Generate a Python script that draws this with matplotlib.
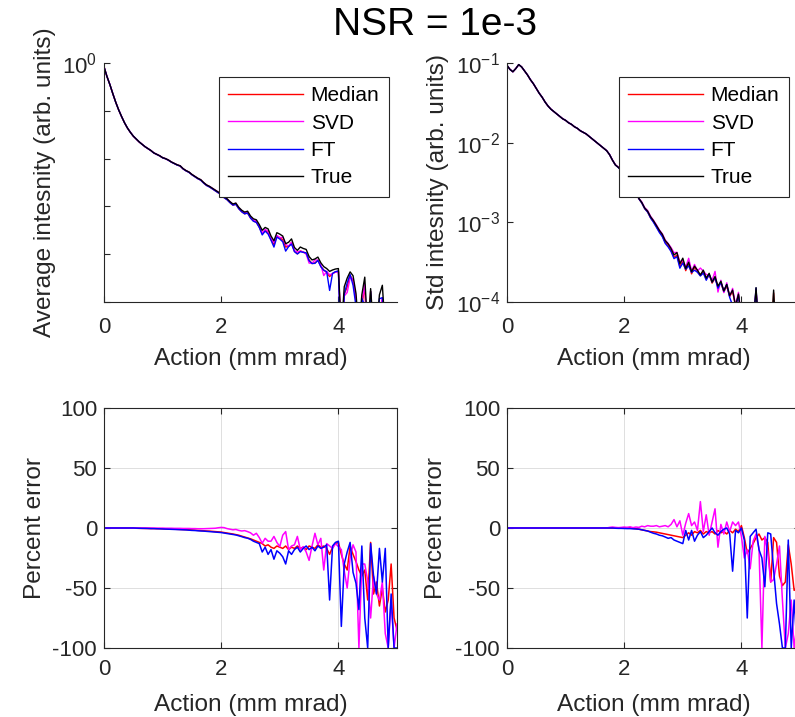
import numpy as np
import matplotlib
matplotlib.use("Agg")
import matplotlib.pyplot as plt

plt.rcParams['font.family'] = ['Liberation Sans', 'DejaVu Sans']
plt.rcParams['mathtext.fontset'] = 'custom'
plt.rcParams['mathtext.rm'] = 'Liberation Sans'
plt.rcParams['mathtext.it'] = 'Liberation Sans:italic'
plt.rcParams['axes.unicode_minus'] = False

action = np.linspace(0, 5, 101)

# log10 of the true average / std intensity
avg_true_log = [
    -0.08, -0.28, -0.45, -0.64, -0.82, -0.98, -1.12, -1.25, -1.36, -1.45,
    -1.53, -1.59, -1.65, -1.70, -1.75, -1.79, -1.83, -1.88, -1.91, -1.94,
    -1.98, -2.00, -2.03, -2.07, -2.10, -2.13, -2.15, -2.21, -2.25, -2.28,
    -2.33, -2.37, -2.41, -2.44, -2.50, -2.55, -2.58, -2.62, -2.66, -2.70,
    -2.73, -2.80, -2.84, -2.90, -2.95, -2.93, -3.02, -3.08, -3.12, -3.10,
    -3.20, -3.26, -3.28, -3.38, -3.50, -3.44, -3.47, -3.62, -3.72, -3.55,
    -3.58, -3.62, -3.78, -3.75, -3.68, -3.86, -3.92, -3.85, -3.88, -3.90,
    -4.05, -4.12, -4.10, -4.06, -4.18, -4.26, -4.30, -4.36, -4.33, -4.31,
    -4.30, -5.60, -4.68, -4.50, -4.37, -4.45, -4.82, -5.60, -4.85, -4.48,
    -5.60, -4.72, -5.60, -5.60, -4.85, -4.65, -5.60, -5.60, -5.60, -5.60,
    -5.60]
std_true_log = [
    -1.03, -1.08, -1.11, -1.07, -1.02, -1.05, -1.10, -1.15, -1.21, -1.26,
    -1.32, -1.38, -1.43, -1.49, -1.54, -1.58, -1.61, -1.64, -1.67, -1.70,
    -1.72, -1.75, -1.77, -1.80, -1.82, -1.85, -1.87, -1.89, -1.92, -1.95,
    -1.98, -2.01, -2.04, -2.07, -2.10, -2.15, -2.22, -2.28, -2.31, -2.35,
    -2.40, -2.45, -2.50, -2.56, -2.62, -2.70, -2.75, -2.82, -2.86, -2.93,
    -2.98, -3.04, -3.10, -3.15, -3.23, -3.27, -3.33, -3.41, -3.38, -3.52,
    -3.45, -3.58, -3.50, -3.62, -3.55, -3.60, -3.66, -3.60, -3.70, -3.64,
    -3.75, -3.68, -3.80, -3.74, -3.86, -3.78, -3.92, -3.85, -4.05, -3.90,
    -4.20, -4.30, -4.40, -4.50, -4.30, -3.82, -4.40, -4.50, -4.60, -4.60,
    -4.50, -3.85, -4.60, -4.60, -4.60, -4.60, -4.60, -4.60, -4.60, -4.60,
    -4.60]

# percent error of the average
avg_err_median = [0] * 10 + [
    0, -0.2, -0.3, -0.3, -0.4, -0.4, -0.5, -0.5, -0.6, -0.6,
    -0.7, -0.8, -0.9, -1.0, -1.0, -1.1, -1.2, -1.3, -1.4, -1.5,
    -1.6, -1.8, -2.0, -2.1, -2.3, -2.5, -2.6, -2.8, -3.0, -3.2,
    -3.4, -3.8, -4.2, -4.6, -5.0, -5.5, -6.0, -6.8, -7.5, -8.3,
    -9.0, -10, -11, -12, -13, -15, -14, -16, -17, -15,
    -16, -17, -15, -18, -16, -17, -15, -17, -16, -18,
    -15, -16, -17, -14, -16, -15, -17, -22, -16, -13,
    -12, -22, -30, -35, -15, -22, -28, -35, -40, -35,
    -60, -12, -55, -45, -65, -50, -70, -60, -30, -75,
    -85]
avg_err_svd = [0] * 10 + [
    0, 0, 0, 0, 0, 0, 0, -0.1, -0.1, -0.1,
    -0.1, -0.2, -0.2, -0.2, -0.3, -0.3, -0.3, -0.4, -0.4, -0.4,
    -0.5, -0.5, -0.6, -0.6, -0.6, -0.5, -0.4, -0.3, -0.2, 0.2,
    0.5, 0.3, -0.5, -1.0, -1.5, -1.2, -2.0, -2.5, -2.2, -3.0,
    -4.0, -6.0, -4.4, -8.0, -12.7, -8.6, -11, -11, -7, -12,
    -15.5, -6, -3, -18, -15, -14, -7, -18, -15.5, -20,
    -27, -15, -4.4, -14, -8.6, -35, -13, -15, -17, -13,
    -15.5, -18, -36, -50, -25, -14, -20, -100, -30, -30,
    -44, -75, -40, -55, -60, -45, -88, -100, -60, -100,
    -80]
avg_err_ft = [0] * 10 + [
    0, -0.1, -0.2, -0.3, -0.3, -0.4, -0.5, -0.5, -0.6, -0.7,
    -0.8, -0.9, -1.0, -1.1, -1.2, -1.3, -1.4, -1.5, -1.6, -1.8,
    -2.0, -2.1, -2.3, -2.5, -2.6, -2.8, -3.0, -3.2, -3.4, -3.6,
    -3.8, -4.2, -4.6, -5.0, -5.4, -5.8, -6.5, -7.2, -8.0, -8.5,
    -9.5, -11, -12, -13, -20, -16, -22, -18, -26, -19,
    -21, -24, -30, -19, -22, -18, -16, -20, -17, -15,
    -18, -16, -19, -15, -17, -16, -14, -60, -15, -12,
    -11, -82, -30, -20, -12, -37, -46, -68, -15, -75,
    -100, -13, -40, -55, -17, -45, -17, -100, -55, -100,
    -100]

# percent error of the std
std_err_median = [0] * 30 + [
    0, 0, 0, 0, 0, 0, 0, 0.1, 0.2, 0.1,
    0, 0.3, 0.1, -0.3, -0.6, -1.0, -1.5, -2.0, -2.5, -3.0,
    -3.2, -3.5, -4.0, -4.5, -5.0, -5.5, -6.0, -6.5, -7.0, -7.5,
    -8.0, -6.0, -4.0, -6.0, -3.0, -4.0, -2.0, -5.0, -3.0, -4.0,
    -3.0, -5.0, -2.0, -4.0, -3.0, -5.0, -2.0, -4.0, -1.0, -3.0,
    2.0, -8, -21, -17, -13, -8, -5, -10, -8, -12,
    -45, -8, -12, -40, -48, -45, -14, -30, -52, -50,
    -55]
std_err_svd = [0] * 30 + [
    0, 0, 0, 0, 0, 0.5, 0.8, 0.5, 0.3, 0.5,
    0.8, 0.5, 1.0, 0.3, 0.8, 0.5, 1.5, 1.0, 2.0, 1.5,
    1.5, 2.0, 1.0, 1.5, 2.0, 1.0, 3.0, 7.0, 1.0, 6.0,
    -6, 4, 12, 2, 5, -2, 22, -3, 11, -6,
    5, 16, -16, 3, -5, 5, -3, 5, 2, 5,
    -7, -25, -18, -34, -11, -5, -17, -100, -7, -20,
    -45, -43, -30, -15, -60, -100, -88, -60, -100, -80,
    -100]
std_err_ft = [0] * 30 + [
    0, 0, 0, 0, 0, 0, 0, -0.2, -0.3, -0.3,
    -0.4, -0.5, -0.5, -0.7, -0.8, -1.0, -1.5, -2.0, -2.5, -3.5,
    -4.4, -5.0, -6.0, -6.5, -7.5, -8.6, -8.0, -10, -11, -12,
    -13, -2, -10, -2, -11, -6, -3, -8, -6, -3,
    0, -4, -6, -3, -1, 0, -5, -36, -2, -4,
    0, -10, -75, -7, -4, -1, -18, -25, -49, -4,
    -5, -35, -63, -80, -100, -100, -10, -100, -60, -100,
    -100]

methods = ['Median', 'SVD', 'FT']
colors = ['#ff0000', '#ff00ff', '#0000ff']
dark = '0.15'

fig = plt.figure(figsize=(7.95, 7.17), dpi=100)
W, H = 795, 717


def box(left, top, right, bottom):
    return [left / W, 1 - bottom / H, (right - left) / W, (bottom - top) / H]


def style(ax, boxed, xpad, ylab_px):
    for side in ['left', 'bottom', 'top', 'right']:
        ax.spines[side].set_color(dark)
        ax.spines[side].set_linewidth(0.8)
        if not boxed and side in ['top', 'right']:
            ax.spines[side].set_visible(False)
    ax.tick_params(direction='in', colors=dark, labelsize=16, length=4,
                   width=0.8, top=boxed, right=boxed, which='both')
    ax.tick_params(axis='x', pad=xpad)
    ax.tick_params(axis='y', pad=5)
    ax.tick_params(which='minor', length=0)
    ax.set_xlim(0, 5)
    ax.set_xticks([0, 2, 4])
    ax.set_xlabel('Action (mm mrad)', fontsize=17.6, color=dark)
    wpx = ax.get_position().width * W
    hpx = ax.get_position().height * H
    ax.xaxis.set_label_coords(0.5, -46 / hpx)
    ax.yaxis.set_label_coords(-ylab_px / wpx, 0.5)


def top_panel(pos, true_log, errs, ylabel, ylim, yticks, ylabels, leg_xy, ylab_px):
    ax = fig.add_axes(pos)
    true = 10 ** np.array(true_log)
    for name, c, e in zip(methods, colors, errs):
        ax.plot(action, true * (1 + np.array(e) / 100), color=c, lw=1.0, label=name)
    ax.plot(action, true, color='k', lw=1.0, label='True')
    ax.set_yscale('log')
    ax.set_ylim(*ylim)
    ax.set_yticks(yticks)
    ax.set_yticklabels(ylabels)
    ax.set_ylabel(ylabel, fontsize=17.6, color=dark)
    style(ax, False, 11, ylab_px)
    ax.legend(loc='upper left', bbox_to_anchor=leg_xy, bbox_transform=fig.transFigure,
              borderaxespad=0, fontsize=15, fancybox=False, edgecolor=dark,
              framealpha=1, handlelength=3.6, handletextpad=0.35,
              labelspacing=0.4, borderpad=0.45)
    ax.get_legend().get_frame().set_linewidth(0.8)
    return ax


def bottom_panel(pos, errs, ylab_px):
    ax = fig.add_axes(pos)
    for name, c, e in zip(methods, colors, errs):
        ax.plot(action, e, color=c, lw=1.1)
    ax.set_ylim(-100, 100)
    ax.set_yticks([-100, -50, 0, 50, 100])
    ax.grid(True, color=dark, alpha=0.15, lw=0.7)
    ax.set_ylabel('Percent error', fontsize=17.6, color=dark)
    style(ax, True, 8, ylab_px)
    return ax


decades = [1e-5, 1e-4, 1e-3, 1e-2, 1e-1, 1e0]
top_panel(box(104, 63, 397, 302), avg_true_log,
          [avg_err_median, avg_err_svd, avg_err_ft],
          'Average intesnity (arb. units)', (1e-5, 1e0), decades,
          ['', '', '', '', '', r'$10^{0}$'], (219 / W, 1 - 77 / H), 48)
top_panel(box(507, 63, 800, 302), std_true_log,
          [std_err_median, std_err_svd, std_err_ft],
          'Std intesnity (arb. units)', (1e-4, 1e-1), [1e-4, 1e-3, 1e-2, 1e-1],
          [r'$10^{-4}$', r'$10^{-3}$', r'$10^{-2}$', r'$10^{-1}$'], (619 / W, 1 - 77 / H), 58)
bottom_panel(box(104, 408, 397, 648), [avg_err_median, avg_err_svd, avg_err_ft], 58)
bottom_panel(box(507, 408, 800, 648), [std_err_median, std_err_svd, std_err_ft], 60)

fig.text(435 / W, 1 - 25 / H, 'NSR = 1e-3', ha='center', va='center', fontsize=28)

fig.savefig('out.png', dpi=100)
